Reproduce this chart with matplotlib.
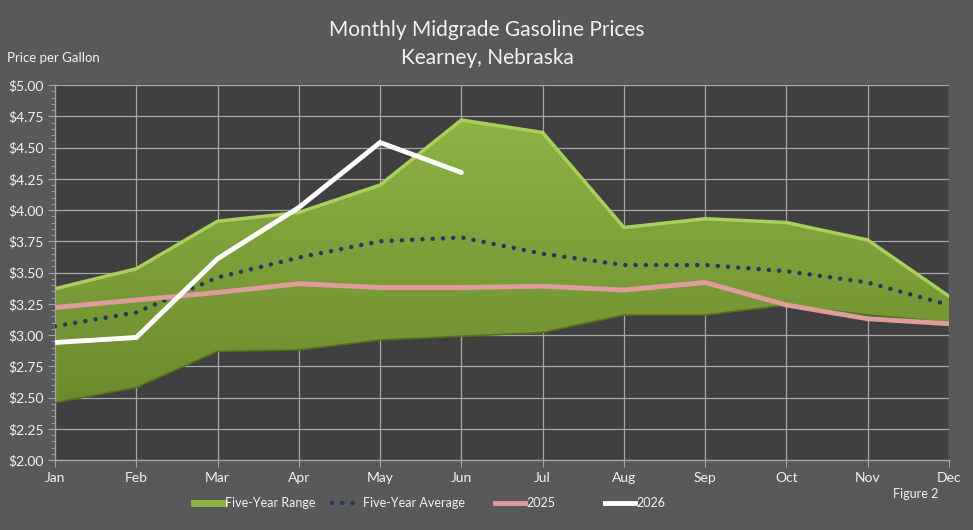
import numpy as np
import matplotlib
matplotlib.use("Agg")
import matplotlib.pyplot as plt
from matplotlib.lines import Line2D
from matplotlib.colors import LinearSegmentedColormap
from matplotlib.ticker import MultipleLocator, FormatStrFormatter

plt.rcParams['font.family'] = ['Lato', 'DejaVu Sans']

months = ["Jan", "Feb", "Mar", "Apr", "May", "Jun", "Jul", "Aug", "Sep", "Oct", "Nov", "Dec"]
range_high = [3.37, 3.53, 3.91, 3.98, 4.20, 4.72, 4.62, 3.86, 3.93, 3.90, 3.76, 3.31]
range_low = [2.46, 2.58, 2.87, 2.88, 2.96, 2.99, 3.02, 3.16, 3.16, 3.24, 3.16, 3.10]
five_year_avg = [3.07, 3.18, 3.46, 3.62, 3.75, 3.78, 3.65, 3.56, 3.56, 3.51, 3.42, 3.24]
y2025 = [3.22, 3.28, 3.34, 3.41, 3.38, 3.38, 3.39, 3.36, 3.42, 3.24, 3.13, 3.09]
y2026 = [2.94, 2.98, 3.61, 4.02, 4.54, 4.30]

BG = "#595959"
PLOT_BG = "#404040"
GRID = "#a6a6a6"
TXT = "#f2f2f2"

W, H = 973, 530
fig = plt.figure(figsize=(W / 100, H / 100), dpi=100, facecolor=BG)
ax = fig.add_axes([55 / W, 1 - 460 / H, (949 - 55) / W, (460 - 85) / H], facecolor=PLOT_BG)

x = np.arange(len(months))

# Five-year range with vertical gradient
poly = ax.fill_between(x, range_low, range_high, facecolor="none", edgecolor="none", zorder=2)
cmap = LinearSegmentedColormap.from_list("g", ["#6a8a2c", "#8db446"])
grad = np.linspace(0, 1, 256).reshape(-1, 1)
im = ax.imshow(grad, cmap=cmap, aspect="auto", origin="lower",
               extent=[0, 11, 2.4, 4.75], zorder=2, interpolation="bicubic")
im.set_clip_path(poly.get_paths()[0], transform=ax.transData)
ax.plot(x, range_high, color="#a9cf5c", lw=2.5, zorder=3, solid_joinstyle="round")
ax.plot(x, range_low, color="#55701f", lw=1.2, zorder=3)

ax.plot(x, five_year_avg, color="#1f3864", lw=3.2, ls=(0, (0.01, 2.3)),
        dash_capstyle="round", zorder=4)
ax.plot(x, y2025, color="#e09b9b", lw=3.5, zorder=5, solid_capstyle="butt")
ax.plot(x[:len(y2026)], y2026, color="white", lw=3.5, zorder=6,
        solid_capstyle="round", solid_joinstyle="miter")

ax.set_xlim(0, 11)
ax.set_ylim(2.0, 5.0)
ax.set_xticks(x)
ax.set_xticklabels(months)
ax.yaxis.set_major_locator(MultipleLocator(0.25))
ax.yaxis.set_minor_locator(MultipleLocator(0.05))
ax.yaxis.set_major_formatter(FormatStrFormatter("$%.2f"))
ax.grid(True, which="major", color=GRID, lw=0.9, zorder=1)
ax.set_axisbelow(True)
for s in ["top", "right"]:
    ax.spines[s].set_visible(False)
for s in ["left", "bottom"]:
    ax.spines[s].set_color(GRID)
    ax.spines[s].set_linewidth(0.9)
ax.tick_params(axis="both", which="both", colors=GRID, labelcolor=TXT, labelsize=10)
ax.tick_params(axis="y", which="major", length=5, pad=3)
ax.tick_params(axis="y", which="minor", length=3)
ax.tick_params(axis="x", which="major", length=5, pad=4)

fig.text(487 / W, 1 - 30 / H, "Monthly Midgrade Gasoline Prices", color=TXT, fontsize=15,
         ha="center", va="center")
fig.text(487 / W, 1 - 58 / H, "Kearney, Nebraska", color=TXT, fontsize=15,
         ha="center", va="center")
fig.text(7 / W, 1 - 58 / H, "Price per Gallon", color=TXT, fontsize=9.5, ha="left", va="center")
fig.text(893 / W, 1 - 494 / H, "Figure 2", color=TXT, fontsize=9, ha="left", va="center")

entries = [
    (Line2D([0], [0], color="#8db446", lw=5), "Five-Year Range", 194),
    (Line2D([0], [0], color="#1f3864", lw=3.2, ls=(0, (0.01, 2.3)), dash_capstyle="round"),
     "Five-Year Average", 332),
    (Line2D([0], [0], color="#e09b9b", lw=3.5), "2025", 495),
    (Line2D([0], [0], color="white", lw=3.5), "2026", 605),
]
for h, lab, px in entries:
    lg = fig.legend(handles=[h], labels=[lab], loc="center left",
                    bbox_to_anchor=(px / W, 1 - 503 / H), frameon=False,
                    handlelength=2.4, handletextpad=0.1, borderpad=0, borderaxespad=0,
                    prop={"size": 9})
    for t in lg.get_texts():
        t.set_color(TXT)

fig.savefig("out.png", dpi=100, facecolor=BG)
